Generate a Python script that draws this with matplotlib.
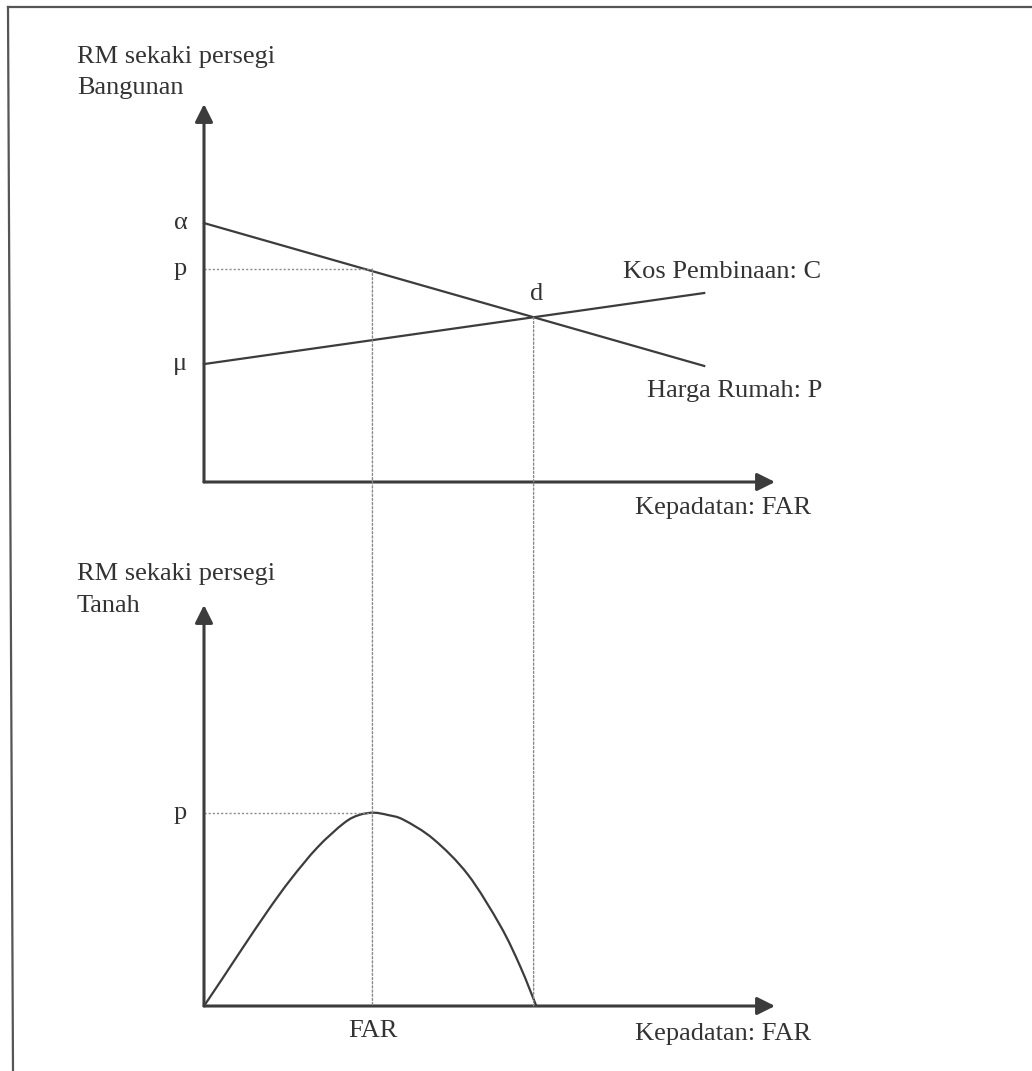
import numpy as np
import matplotlib
matplotlib.use("Agg")
import matplotlib.pyplot as plt
from matplotlib.patches import ConnectionPatch, PathPatch
from matplotlib.path import Path
from matplotlib.lines import Line2D

plt.rcParams['font.family'] = ['Liberation Serif', 'DejaVu Serif']

# top panel: price of floor space (P) and construction cost (C) against FAR
line_x = [0, 87.6]
harga_rumah = [68.5, 30.7]    # P, falls from alpha
kos_pembinaan = [31.2, 50.0]  # C, rises from mu
alpha_val = 68.5
mu_val = 31.2
p_top = 56.3
far_x = 29.5

# bottom panel: land value per square foot against FAR
tanah_x = [0, 3.3, 6.5, 11.2, 15.2, 19.9, 24.5, 27.1, 29.7, 32.3, 35.0,
           40.2, 46.2, 51.9, 55.4, 58.2]
tanah_y = [0, 7.0, 13.9, 23.8, 31.6, 39.6, 45.6, 47.6, 48.2, 47.6, 46.4,
           41.6, 32.8, 20.0, 9.8, 0]
p_bottom = 48.2

top_ylabel = ["RM sekaki persegi", "Bangunan"]
bottom_ylabel = ["RM sekaki persegi", "Tanah"]
xlabel = "Kepadatan: FAR"

ink = '#3c3c3c'
txt = '#333333'
dot = '#8a8a8a'
fs = 19

W, H = 1032, 1071
fig = plt.figure(figsize=(W / 100, H / 100), dpi=100)

def px_axes(x0, y0, x1, y1):
    return fig.add_axes([x0 / W, 1 - y1 / H, (x1 - x0) / W, (y1 - y0) / H])

ax1 = px_axes(204, 104, 775, 482)
ax2 = px_axes(204, 605, 775, 1006)

for ax in (ax1, ax2):
    ax.set_xlim(0, 100)
    ax.set_ylim(0, 100)
    ax.axis('off')
    arrow = dict(arrowstyle='-|>,head_length=0.6,head_width=0.3', lw=2.2,
                 color=ink, shrinkA=0, shrinkB=0, mutation_scale=18)
    ax.annotate('', xy=(100, 0), xytext=(0, 0), arrowprops=arrow,
                annotation_clip=False)
    ax.annotate('', xy=(0, 100), xytext=(0, 0), arrowprops=arrow,
                annotation_clip=False)
    ax.text(75.5, -7, xlabel, fontsize=fs, color=txt, ha='left', va='center')

# top panel lines
ax1.plot(line_x, harga_rumah, color=ink, lw=1.6, clip_on=False)
ax1.plot(line_x, kos_pembinaan, color=ink, lw=1.6, clip_on=False)

# intersection d
sp = np.polyfit(line_x, harga_rumah, 1)
sc = np.polyfit(line_x, kos_pembinaan, 1)
d_x = (sc[1] - sp[1]) / (sp[0] - sc[0])
d_y = np.polyval(sp, d_x)

dots = (0, (1.5, 1.5))
ax1.plot([0, far_x], [p_top, p_top], color=dot, lw=1, linestyle=dots)

for ax, val, lab in [(ax1, alpha_val, 'α'), (ax1, p_top, 'p'),
                     (ax1, mu_val, 'μ'), (ax2, p_bottom, 'p')]:
    ax.annotate(lab, xy=(0, val), xytext=(-17, 0), textcoords='offset points',
                ha='center', va='center', fontsize=fs, color=txt)

ax1.annotate('d', xy=(d_x, d_y), xytext=(2, 17), textcoords='offset points',
             ha='center', va='center', fontsize=fs, color=txt)
ax1.text(73.3, 55.6, "Kos Pembinaan: C", fontsize=fs, color=txt,
         va='center', ha='left')
ax1.text(77.5, 24.1, "Harga Rumah: P", fontsize=fs, color=txt,
         va='center', ha='left')

# bottom panel curve, drawn as a smooth path through the read points
pts = np.column_stack([tanah_x, tanah_y])
verts = [pts[0]]
codes = [Path.MOVETO]
n = len(pts)
for i in range(n - 1):
    p0 = pts[max(i - 1, 0)]
    p1 = pts[i]
    p2 = pts[i + 1]
    p3 = pts[min(i + 2, n - 1)]
    verts += [p1 + (p2 - p0) / 6, p2 - (p3 - p1) / 6, p2]
    codes += [Path.CURVE4] * 3
ax2.add_patch(PathPatch(Path(verts, codes), facecolor='none', edgecolor=ink,
                        lw=1.6, clip_on=False))
ax2.plot([0, far_x], [p_bottom, p_bottom], color=dot, lw=1, linestyle=dots)
ax2.annotate('FAR', xy=(far_x, 0), xytext=(0, -18), textcoords='offset points',
             ha='center', va='center', fontsize=fs, color=txt)

# dotted drop lines running from top panel down to bottom axis
for x0, y0 in [(far_x, p_top), (d_x, d_y)]:
    con = ConnectionPatch(xyA=(x0, y0), coordsA=ax1.transData,
                          xyB=(x0, 0), coordsB=ax2.transData,
                          color=dot, lw=1, linestyle=dots)
    fig.add_artist(con)

# axis titles
fig.text(77 / W, 1 - 57 / H, top_ylabel[0], fontsize=fs, color=txt, va='center')
fig.text(77 / W, 1 - 88 / H, top_ylabel[1], fontsize=fs, color=txt, va='center')
fig.text(77 / W, 1 - 574 / H, bottom_ylabel[0], fontsize=fs, color=txt, va='center')
fig.text(77 / W, 1 - 606 / H, bottom_ylabel[1], fontsize=fs, color=txt, va='center')

# scanned page frame
fig.add_artist(Line2D([8 / W, 1], [1 - 7 / H, 1 - 7 / H], color='#555555',
                      lw=1.6, transform=fig.transFigure))
fig.add_artist(Line2D([8 / W, 13 / W], [1 - 7 / H, 0], color='#555555',
                      lw=1.6, transform=fig.transFigure))

fig.savefig('out.png', dpi=100, facecolor='white')
